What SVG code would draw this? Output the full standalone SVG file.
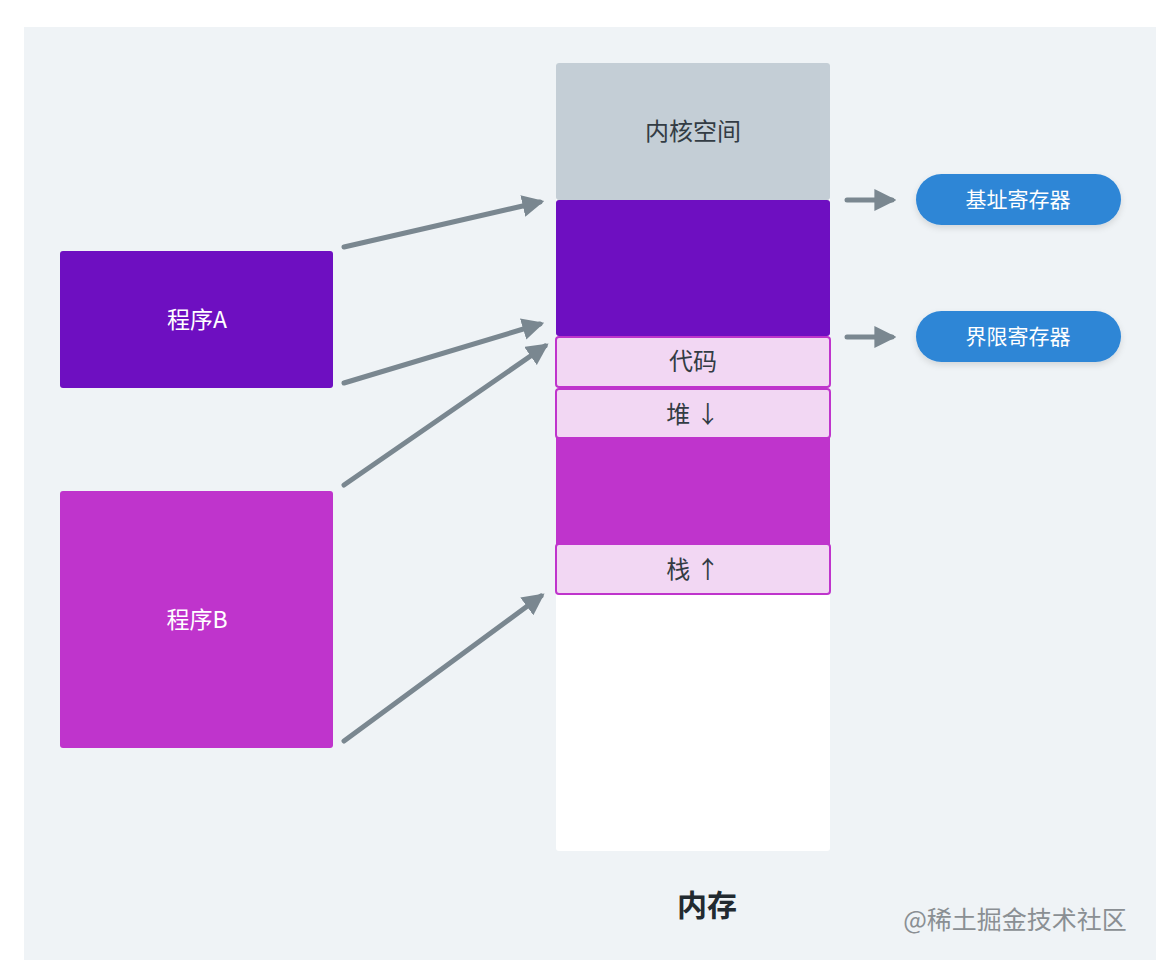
<svg xmlns="http://www.w3.org/2000/svg" width="1176" height="974" viewBox="0 0 1176 974">
<style>
text{font-family:"Noto Sans CJK SC","Noto Sans",sans-serif;text-anchor:middle;dominant-baseline:central}
.seg{fill:#f2d7f3;stroke:#bf34cc;stroke-width:2}
.lbl{font-size:24px;fill:#333c44}
.prog{font-size:23px;fill:#ffffff}
.reg{fill:#2e86d6}
.regt{font-size:21px;fill:#ffffff}
.conn{stroke:#7a8790;stroke-width:5;stroke-linecap:round;fill:none}
</style>
<defs>
<marker id="ah" viewBox="0 0 10 10" refX="8" refY="5" markerWidth="4.4" markerHeight="4.4" orient="auto" markerUnits="strokeWidth">
<path d="M0,0 L10,5 L0,10 z" fill="#7a8790"/>
</marker>
<filter id="sh" x="-10%" y="-20%" width="120%" height="160%">
<feDropShadow dx="0" dy="3" stdDeviation="3" flood-color="#000" flood-opacity="0.12"/>
</filter>
</defs>
<rect width="1176" height="974" fill="#ffffff"/>
<rect x="24" y="27" width="1132" height="933" fill="#eff3f6"/>

<g id="memory">
<rect x="556" y="63" width="274" height="788" rx="3" fill="#ffffff"/>
<g id="kernel">
<rect x="556" y="63" width="274" height="137" rx="3" fill="#c4ced6"/>
<text class="lbl" x="693" y="129">内核空间</text>
</g>
<rect id="memA" x="556" y="200" width="274" height="136" rx="3" fill="#6e0fc1"/>
<rect id="memB" x="556" y="437" width="274" height="107" fill="#bf34cc"/>
<g id="code">
<rect class="seg" x="556" y="337" width="274" height="50" rx="3"/>
<text class="lbl" x="693" y="359">代码</text>
</g>
<g id="heap">
<rect class="seg" x="556" y="389" width="274" height="49" rx="3"/>
<text class="lbl" x="693" y="412">堆 ↓</text>
</g>
<g id="stack">
<rect class="seg" x="556" y="544" width="274" height="50" rx="3"/>
<text class="lbl" x="693" y="567">栈 ↑</text>
</g>
</g>

<g id="progA">
<rect x="60" y="251" width="273" height="137" rx="3" fill="#6e0fc1"/>
<text class="prog" x="197" y="318">程序A</text>
</g>
<g id="progB">
<rect x="60" y="491" width="273" height="257" rx="3" fill="#bf34cc"/>
<text class="prog" x="197" y="618">程序B</text>
</g>

<g id="baseReg">
<rect class="reg" x="916" y="174" width="205" height="51" rx="25.5" filter="url(#sh)"/>
<text class="regt" x="1018" y="198">基址寄存器</text>
</g>
<g id="limitReg">
<rect class="reg" x="916" y="311" width="205" height="51" rx="25.5" filter="url(#sh)"/>
<text class="regt" x="1018" y="335">界限寄存器</text>
</g>

<g id="connectors">
<line class="conn" x1="344" y1="247" x2="540" y2="202" marker-end="url(#ah)"/>
<line class="conn" x1="344" y1="383" x2="540" y2="324" marker-end="url(#ah)"/>
<line class="conn" x1="344" y1="485" x2="545" y2="346" marker-end="url(#ah)"/>
<line class="conn" x1="344" y1="741" x2="541" y2="596" marker-end="url(#ah)"/>
<line class="conn" x1="847" y1="200" x2="892" y2="200" marker-end="url(#ah)"/>
<line class="conn" x1="847" y1="337" x2="892" y2="337" marker-end="url(#ah)"/>
</g>

<text x="707" y="903" font-size="30" font-weight="bold" fill="#222a30">内存</text>
<text x="1015" y="918" font-size="25" fill="#8a8f93">@稀土掘金技术社区</text>
</svg>
